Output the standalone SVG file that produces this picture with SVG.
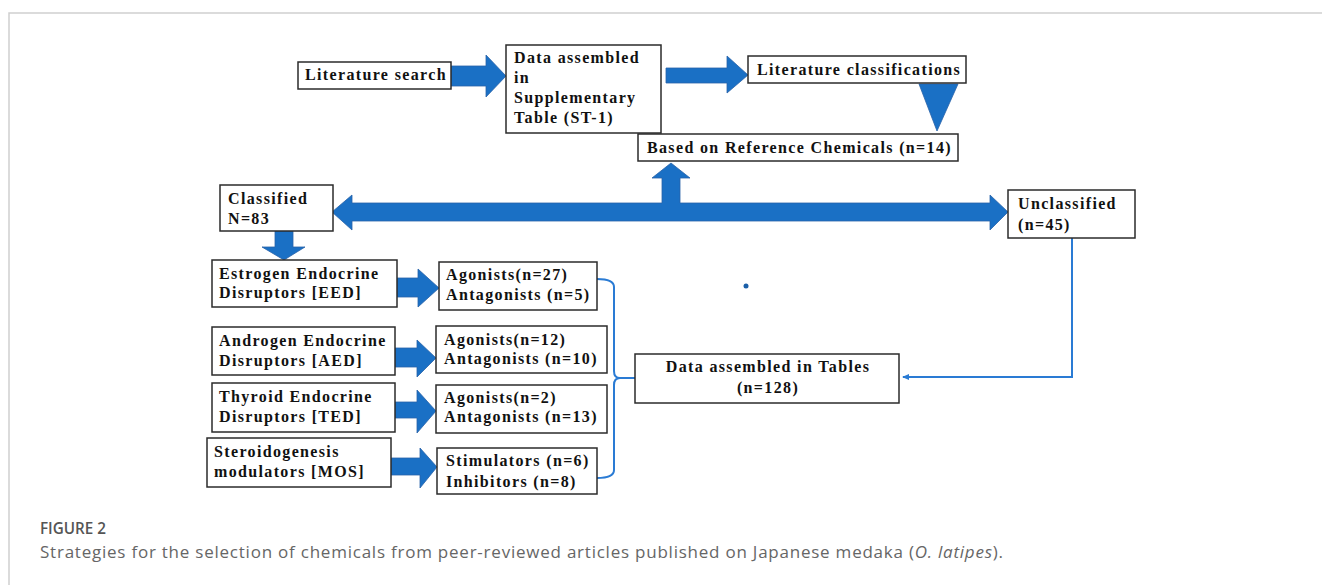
<svg xmlns="http://www.w3.org/2000/svg" width="1322" height="585" viewBox="0 0 1322 585">
<style>
.box{fill:#fff;stroke:#2b2b2b;stroke-width:1.5}
.t{font-family:"Liberation Serif","Times New Roman",serif;font-weight:bold;font-size:16px;letter-spacing:1.35px;fill:#111}
.arr{fill:#1a70c5;stroke:#2862a8;stroke-width:0.8}
.ln{fill:none;stroke:#2a7bd4;stroke-width:2}
.cap{font-family:"Open Sans","Noto Sans","Liberation Sans",sans-serif}
</style>
<defs>
<marker id="ah" markerWidth="8" markerHeight="8" refX="6" refY="4" orient="auto" markerUnits="userSpaceOnUse">
<path d="M0,1 L7,4 L0,7 Z" fill="#2a7bd4"/>
</marker>
</defs>
<rect width="1322" height="585" fill="#fff"/>
<path d="M9,585 L9,13 L1322,13" fill="none" stroke="#cfcfcf" stroke-width="1.5"/>

<g id="connectors">
<path class="arr" d="M451,66 L486,66 L486,55 L506,76 L486,97 L486,86 L451,86 Z"/>
<path class="arr" d="M666,68 L727,68 L727,56 L748,75 L727,93 L727,83 L666,83 Z"/>
<path class="arr" d="M919,84 L958,84 L937,131 Z"/>
<path class="arr" d="M332,212 L352,195 L352,203 L662,203 L662,178 L652,178 L671,163 L690,178 L680,178 L680,203 L990,203 L990,195 L1008,212 L990,230 L990,221 L352,221 L352,230 Z"/>
<path class="arr" d="M275,231 L293,231 L293,247 L305,247 L284,260 L262,247 L275,247 Z"/>
<path class="arr" d="M397,278 L418,278 L418,269 L439,288 L418,307 L418,297 L397,297 Z"/>
<path class="arr" d="M395,348 L417,348 L417,340 L436,358 L417,377 L417,367 L395,367 Z"/>
<path class="arr" d="M395,402 L417,402 L417,390 L436,411 L417,433 L417,418 L395,418 Z"/>
<path class="arr" d="M391,458 L420,458 L420,448 L437,467 L420,488 L420,475 L391,475 Z"/>
<path class="ln" d="M597,279 Q614,279 614,287 L614,371 Q614,378 620,378 L635,378 M620,378 Q614,378 614,385 L614,470 Q614,478 597,478"/>
<path class="ln" d="M1072,238 L1072,377 L903,377" marker-end="url(#ah)"/>
<circle cx="746" cy="286" r="2.5" fill="#1a5fa8"/>
</g>

<g id="lit-search"><rect class="box" x="298" y="62" width="153" height="27"/><text class="t" x="305" y="80">Literature search</text></g>
<g id="data-assembled"><rect class="box" x="506" y="45" width="155" height="88"/>
<text class="t" x="514" y="63">Data assembled</text><text class="t" x="514" y="83">in</text><text class="t" x="514" y="103">Supplementary</text><text class="t" x="514" y="123">Table (ST-1)</text></g>
<g id="lit-class"><rect class="box" x="748" y="56" width="218" height="27"/><text class="t" x="757" y="75">Literature classifications</text></g>
<g id="based-on"><rect class="box" x="638" y="134" width="320" height="27"/><text class="t" x="647" y="153">Based on Reference Chemicals (n=14)</text></g>
<g id="classified"><rect class="box" x="220" y="185" width="113" height="46"/><text class="t" x="228" y="204">Classified</text><text class="t" x="228" y="224">N=83</text></g>
<g id="unclassified"><rect class="box" x="1008" y="190" width="127" height="48"/><text class="t" x="1018" y="209">Unclassified</text><text class="t" x="1018" y="230">(n=45)</text></g>
<g id="eed"><rect class="box" x="212" y="260" width="185" height="47"/><text class="t" x="219" y="279">Estrogen Endocrine</text><text class="t" x="219" y="298">Disruptors [EED]</text></g>
<g id="eed-out"><rect class="box" x="439" y="262" width="158" height="48"/><text class="t" x="446" y="280">Agonists(n=27)</text><text class="t" x="446" y="300">Antagonists (n=5)</text></g>
<g id="aed"><rect class="box" x="212" y="327" width="183" height="48"/><text class="t" x="219" y="346">Androgen Endocrine</text><text class="t" x="219" y="366">Disruptors [AED]</text></g>
<g id="aed-out"><rect class="box" x="436" y="326" width="171" height="47"/><text class="t" x="444" y="345">Agonists(n=12)</text><text class="t" x="444" y="364">Antagonists (n=10)</text></g>
<g id="ted"><rect class="box" x="212" y="383" width="183" height="49"/><text class="t" x="219" y="402">Thyroid Endocrine</text><text class="t" x="219" y="422">Disruptors [TED]</text></g>
<g id="ted-out"><rect class="box" x="436" y="385" width="171" height="48"/><text class="t" x="444" y="403">Agonists(n=2)</text><text class="t" x="444" y="422">Antagonists (n=13)</text></g>
<g id="mos"><rect class="box" x="207" y="438" width="184" height="49"/><text class="t" x="214" y="457">Steroidogenesis</text><text class="t" x="214" y="477">modulators [MOS]</text></g>
<g id="mos-out"><rect class="box" x="437" y="448" width="160" height="46"/><text class="t" x="446" y="466">Stimulators (n=6)</text><text class="t" x="446" y="487">Inhibitors (n=8)</text></g>
<g id="tables"><rect class="box" x="635" y="354" width="264" height="49"/><text class="t" x="768" y="372" text-anchor="middle">Data assembled in Tables</text><text class="t" x="768" y="393" text-anchor="middle">(n=128)</text></g>

<g id="caption">
<text class="cap" x="40" y="534" font-size="17" font-weight="600" fill="#555" textLength="66" lengthAdjust="spacingAndGlyphs">FIGURE 2</text>
<text class="cap" x="40" y="558" font-size="17" fill="#666" textLength="963" lengthAdjust="spacing">Strategies for the selection of chemicals from peer-reviewed articles published on Japanese medaka (<tspan font-style="italic">O. latipes</tspan>).</text>
</g>
</svg>
